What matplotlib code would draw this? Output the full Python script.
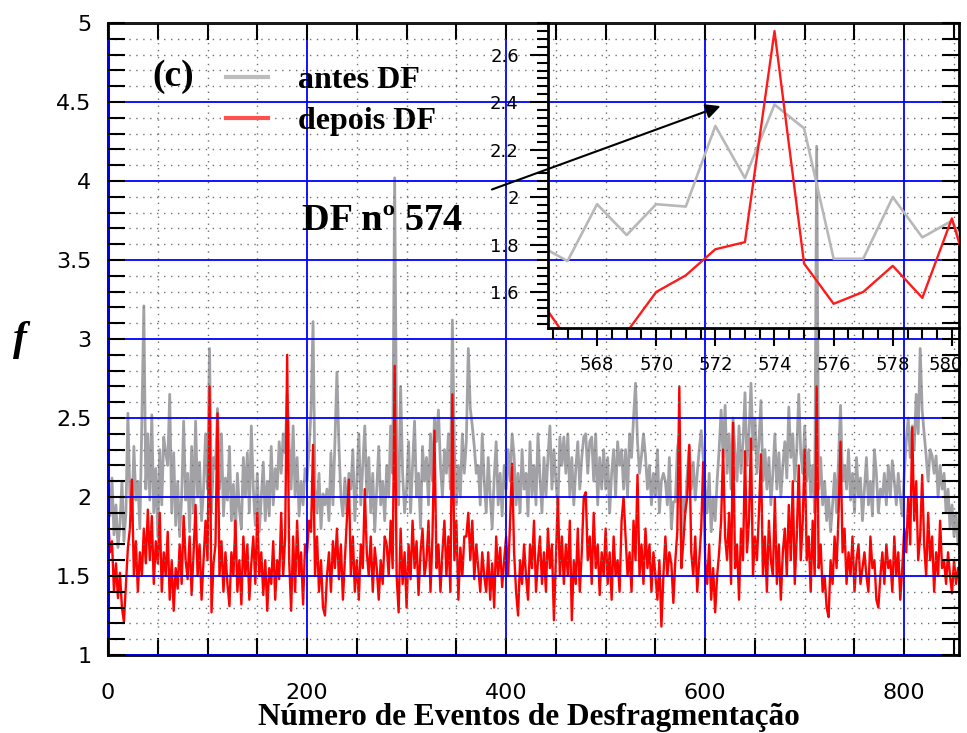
import numpy as np
import matplotlib
matplotlib.use('Agg')
import matplotlib.pyplot as plt
from matplotlib.ticker import MultipleLocator, FixedLocator, FuncFormatter
from matplotlib.lines import Line2D
from matplotlib.font_manager import FontProperties
from matplotlib.transforms import ScaledTranslation

# ---------------- data (f values x100, every 2nd defragmentation event) -------------
antes_df = [
    205,188,212,176,195,168,183,210,172,190,
    253,200,185,232,198,210,180,248,321,205,
    240,198,252,190,218,175,230,195,238,228,
    220,265,190,228,182,210,175,200,248,198,
    215,178,232,190,248,200,222,185,205,240,
    205,294,190,225,218,256,205,240,188,212,
    198,232,185,208,175,215,192,180,225,200,
    228,190,245,205,182,215,178,200,222,185,
    210,188,232,195,218,205,235,215,240,228,
    265,232,205,245,200,225,188,210,195,218,
    210,230,255,311,205,190,215,180,202,195,
    205,185,228,195,235,279,233,200,188,212,
    190,215,205,230,185,210,240,195,220,245,
    200,225,190,215,178,205,232,195,210,185,
    220,200,245,215,402,230,195,270,215,190,
    205,235,190,220,248,200,215,180,232,210,
    225,195,240,210,250,235,255,220,200,230,
    215,240,205,312,230,195,220,200,240,215,
    235,294,256,245,232,215,220,195,240,210,
    190,225,200,180,212,235,195,215,188,220,
    205,230,210,240,226,195,215,190,230,205,
    215,188,235,200,220,195,240,212,190,225,
    200,225,245,205,230,210,195,238,220,238,
    215,240,200,225,195,218,235,205,225,238,
    240,215,235,238,210,240,195,225,205,230,
    205,225,190,215,230,200,235,220,230,205,
    230,200,240,225,250,272,235,215,226,240,
    226,205,220,195,215,200,230,190,210,215,
    210,195,225,180,197,197,230,239,174,200,
    190,215,232,205,222,198,215,230,242,225,
    205,190,215,178,200,185,210,230,255,225,
    258,215,240,205,250,228,210,245,215,235,
    266,220,240,272,230,250,215,235,261,210,
    230,205,225,195,215,240,205,228,200,220,
    235,212,257,225,240,210,230,265,228,215,
    245,210,230,200,220,190,422,205,225,195,
    210,185,200,178,195,215,190,225,258,210,
    220,205,230,198,215,190,225,200,212,185,
    205,225,195,210,188,230,215,190,205,200,
    215,195,220,200,223,210,195,215,200,188,
    215,235,250,225,245,230,265,240,294,255,
    240,226,210,230,226,215,226,200,220,205,
    215,190,205,180,195,175,190,170,
]
depois_df = [
    190,165,172,140,158,136,152,130,121,145,
    168,180,211,150,172,140,165,150,180,158,
    192,160,188,145,172,158,190,140,165,150,
    178,135,160,128,155,142,170,145,188,160,
    148,175,138,165,195,150,170,135,160,185,
    160,270,127,158,170,253,150,172,140,165,
    145,131,165,150,185,140,160,132,175,150,
    170,135,158,175,145,190,150,165,138,160,
    128,155,145,172,135,160,148,190,150,175,
    290,160,128,175,140,185,150,165,132,170,
    165,185,178,233,150,175,140,160,130,125,
    150,165,140,172,155,180,148,170,135,160,
    185,211,150,175,140,160,135,170,155,205,
    165,150,175,140,168,155,135,160,145,175,
    170,150,185,155,283,150,127,180,145,165,
    130,170,148,185,155,172,138,165,180,150,
    160,185,140,175,242,155,170,140,165,185,
    150,175,140,265,160,185,135,168,150,175,
    175,190,160,185,148,170,155,140,165,150,
    140,165,135,158,130,175,150,168,143,160,
    175,150,185,221,165,140,125,160,145,170,
    150,135,170,155,185,140,160,175,145,165,
    140,180,155,170,122,160,200,150,175,145,
    170,150,185,122,160,145,180,140,165,200,
    203,160,175,145,190,155,170,138,165,150,
    180,145,165,135,175,150,160,140,185,200,
    175,150,165,140,185,160,214,150,170,145,
    180,155,170,140,165,150,135,160,118,150,
    175,150,165,158,133,160,178,270,155,171,
    191,200,233,165,150,175,140,160,180,222,
    160,145,170,135,155,127,150,165,185,230,
    175,160,190,145,247,155,170,135,180,160,
    229,165,185,237,150,175,160,190,227,150,
    175,140,185,160,150,200,145,170,135,165,
    180,150,195,160,210,145,175,220,160,185,
    230,160,175,140,185,150,270,155,170,140,
    150,130,124,160,145,175,155,190,235,165,
    180,145,165,150,175,140,160,170,145,155,
    165,150,140,175,155,160,135,130,150,165,
    145,170,155,160,140,175,150,165,135,155,
    180,165,200,170,244,185,210,160,175,214,
    170,150,190,160,175,140,165,150,185,155,
    160,145,165,150,139,160,145,155,
]

# zoom on DF 574
inset_events = [566, 567, 568, 569, 570, 571, 572, 573, 574, 575, 576, 577, 578, 579, 580, 581]
inset_antes = [1.80, 1.73, 1.97, 1.84, 1.97, 1.96, 2.30, 2.08, 2.39, 2.29, 1.74, 1.74, 2.00, 1.83, 1.90, 1.65]
inset_depois = [1.58, 1.40, 1.33, 1.43, 1.60, 1.67, 1.78, 1.81, 2.70, 1.72, 1.55, 1.60, 1.71, 1.575, 1.91, 1.49]

x_ticks = [0, 200, 400, 600, 800]
y_ticks = [1, 1.5, 2, 2.5, 3, 3.5, 4, 4.5, 5]
inset_x_ticks = [568, 570, 572, 574, 576, 578, 580]
inset_y_ticks = [1.6, 1.8, 2.0, 2.2, 2.4, 2.6]

labels = ['antes DF', 'depois DF']
panel = '(c)'
note = 'DF nº 574'
xlabel = 'Número de Eventos de Desfragmentação'
ylabel = 'f'

# ---------------- figure -------------
W, H = 967, 733
fig = plt.figure(figsize=(W / 100, H / 100), dpi=100)
serif_b = FontProperties(family='Liberation Serif', weight='bold')

def fx(px):
    return px / W

def fy(py):
    return 1 - py / H

antes = np.array(antes_df) / 100.0
depois = np.array(depois_df) / 100.0
events = np.arange(len(antes)) * 2

ax = fig.add_axes([fx(108), fy(655), (959 - 108) / W, (655 - 23) / H])
ax.plot(events, antes, color='#a2a2a6', lw=2.0, zorder=2)
ax.plot(events, depois, color='#ff0000', lw=1.7, zorder=2.1)
ax.set_xlim(0, 855)
ax.set_ylim(1, 5)
ax.xaxis.set_major_locator(FixedLocator(x_ticks))
ax.xaxis.set_minor_locator(MultipleLocator(50))
ax.yaxis.set_major_locator(FixedLocator(y_ticks))
ax.yaxis.set_minor_locator(MultipleLocator(0.1))
ax.yaxis.set_major_formatter(FuncFormatter(lambda v, p: f'{v:g}'))
ax.set_axisbelow(False)
ax.grid(which='minor', color='#707070', ls=(0, (1, 4)), lw=1.0, zorder=2.5)
ax.grid(which='major', color='#0000ff', ls='-', lw=1.3, zorder=2.5)
ax.tick_params(which='both', direction='in', top=True, right=True, length=12, width=1.5,
               labelsize=16)
ax.tick_params(axis='x', pad=20)
ax.tick_params(axis='y', pad=12)
for s in ax.spines.values():
    s.set_linewidth(2)

# legend
h1 = Line2D([], [], color='#bdbdbd', lw=3)
h2 = Line2D([], [], color='#ff5050', lw=3)
ax.legend([h1, h2], labels, loc='upper left', bbox_to_anchor=(fx(226), fy(66)),
          bbox_transform=fig.transFigure, frameon=False, borderpad=0, borderaxespad=0,
          handlelength=1.3, handletextpad=0.95, labelspacing=0.35,
          prop=FontProperties(family='Liberation Serif', weight='bold', size=23))

fig.text(fx(152), fy(76), panel, fontproperties=serif_b, fontsize=27, va='center', ha='left')
fig.text(fx(302), fy(220), note, fontproperties=serif_b, fontsize=27.5, va='center', ha='left')

# arrow pointing to the zoomed region
ax.annotate('', xy=(618, 4.48), xytext=(383, 3.94),
            arrowprops=dict(arrowstyle='-|>', color='black', lw=1.5, mutation_scale=22))

# axis labels
fig.text(fx(529), fy(718), xlabel, fontproperties=serif_b, fontsize=22.5, ha='center', va='center')
fig.text(fx(20), fy(340), ylabel, family='Liberation Serif', weight='bold', style='italic',
         fontsize=30, ha='center', va='center')

# ---------------- inset -------------
axi = fig.add_axes([fx(548), fy(328), (959 - 548) / W, (328 - 23) / H])
axi.patch.set_alpha(0)
axi.plot(inset_events, inset_antes, color='#b8b8b8', lw=1.9)
axi.plot(inset_events, inset_depois, color='#ff1a1a', lw=1.7)
axi.set_xlim(566.34, 580.24)
axi.set_ylim(1.448, 2.734)
axi.xaxis.set_major_locator(FixedLocator(inset_x_ticks))
axi.xaxis.set_minor_locator(MultipleLocator(0.5))
axi.yaxis.set_major_locator(FixedLocator(inset_y_ticks))
axi.yaxis.set_minor_locator(MultipleLocator(0.2 / 6))
axi.yaxis.set_major_formatter(FuncFormatter(lambda v, p: f'{v:g}'))
axi.tick_params(which='major', direction='out', length=13, width=1.5, labelsize=13)
axi.tick_params(which='minor', direction='out', length=8, width=1.5)
axi.tick_params(axis='x', pad=7)
axi.tick_params(axis='y', pad=8)
axi.spines['top'].set_visible(False)
axi.spines['right'].set_visible(False)
for s in ('left', 'bottom'):
    axi.spines[s].set_linewidth(2)

# keep the last inset label inside the figure
fig.canvas.draw()
last = axi.get_xticklabels()[-1]
last.set_transform(last.get_transform() + ScaledTranslation(-6 / 100, 0, fig.dpi_scale_trans))

fig.savefig('out.png', dpi=100)
